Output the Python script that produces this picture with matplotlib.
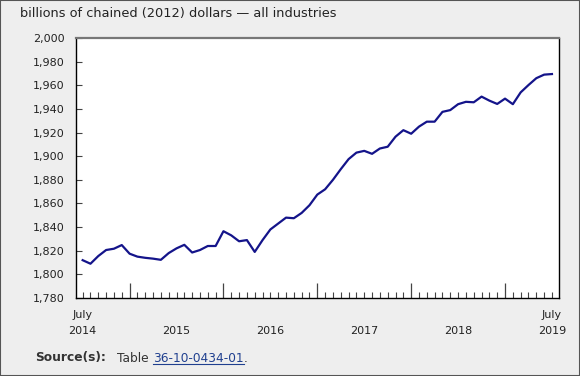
import numpy as np
import matplotlib
matplotlib.use("Agg")
import matplotlib.pyplot as plt
from matplotlib.patches import Rectangle
from matplotlib.transforms import blended_transform_factory

# Monthly GDP, July 2014 - July 2019 (billions of chained 2012 dollars)
gdp_2014 = [1812, 1809, 1815.5, 1820.6, 1821.7, 1824.8]
gdp_2015 = [1817.5, 1815, 1814, 1813.3, 1812.3, 1818, 1822, 1825, 1818.5, 1820.6, 1824, 1824]
gdp_2016 = [1836.5, 1833, 1828, 1829, 1819, 1829, 1838, 1843, 1848, 1847.5, 1852, 1858.5]
gdp_2017 = [1867.5, 1872, 1880, 1889, 1897.5, 1903, 1904.5, 1902, 1906.5, 1908, 1916.5, 1922]
gdp_2018 = [1919, 1925, 1929.2, 1929.2, 1937.5, 1939, 1944, 1946, 1945.6, 1950.4, 1947, 1944.2]
gdp_2019 = [1948.7, 1944, 1954, 1960.2, 1966, 1969, 1969.5]
values = gdp_2014 + gdp_2015 + gdp_2016 + gdp_2017 + gdp_2018 + gdp_2019

year_labels = ["July\n2014", "2015", "2016", "2017", "2018", "July\n2019"]
year_label_pos = [0, 12, 24, 36, 48, 60]
jan_pos = [6, 18, 30, 42, 54]
y_ticks = list(range(1780, 2001, 20))

bg = "#eeeeee"
txt = "#222222"

fig = plt.figure(figsize=(5.8, 3.76), dpi=100, facecolor=bg)
fig.patches.append(Rectangle((0, 0), 1, 1, transform=fig.transFigure,
                             fill=False, edgecolor="#555555", linewidth=1.5))

ax = fig.add_axes([76 / 580, 78 / 376, 483 / 580, 260 / 376])
ax.set_facecolor("white")
x = np.arange(len(values))
ax.plot(x, values, color="#14148a", linewidth=1.6, solid_joinstyle="round")

ax.set_xlim(-0.85, 60.9)
ax.set_ylim(1780, 2000)

for side in ["left", "bottom", "right"]:
    ax.spines[side].set_color("black")
    ax.spines[side].set_linewidth(1)
ax.spines["top"].set_color("#777777")
ax.spines["top"].set_linewidth(1.6)

ax.set_yticks(y_ticks)
ax.set_yticklabels([f"{v:,}" for v in y_ticks])
ax.tick_params(axis="y", direction="in", length=4, width=0.8, color="#444444",
               labelsize=8, labelcolor=txt, pad=8)

ax.set_xticks(jan_pos)
ax.set_xticklabels([])
ax.set_xticks(x, minor=True)
ax.tick_params(axis="x", which="major", direction="in", length=11, width=0.9,
               color="#444444")
ax.tick_params(axis="x", which="minor", direction="in", length=4, width=0.8,
               color="#444444")

trans = blended_transform_factory(ax.transData, ax.transAxes)
for pos, lab in zip(year_label_pos, year_labels):
    lines = lab.split("\n")
    if len(lines) == 2:
        ax.text(pos, -17 / 260, lines[0], transform=trans, ha="center", va="center",
                fontsize=8, color=txt)
    ax.text(pos, -33 / 260, lines[-1], transform=trans, ha="center", va="center",
            fontsize=8, color=txt)

fig.text(20 / 580, 1 - 14 / 376, "billions of chained (2012) dollars \u2014 all industries",
         ha="left", va="center", fontsize=9.3, color=txt)

# Source line
sy = 1 - 358 / 376
fig.text(35 / 580, sy, "Source(s):", ha="left", va="center", fontsize=8.8,
         fontweight="bold", color="#333333")
fig.text(117 / 580, sy, "Table", ha="left", va="center", fontsize=8.8, color="#333333")
link = fig.text(153 / 580, sy, "36-10-0434-01", ha="left", va="center",
                fontsize=8.7, color="#1f3f8f")
fig.canvas.draw()
bb = link.get_window_extent().transformed(fig.transFigure.inverted())
fig.text(bb.x1, sy, ".", ha="left", va="center", fontsize=8.8, color="#333333")
fig.add_artist(plt.Line2D([bb.x0, bb.x1], [bb.y0 + 0.002, bb.y0 + 0.002],
                          transform=fig.transFigure, color="#1f3f8f", linewidth=0.8))

fig.savefig("out.png", dpi=100, facecolor=bg)
